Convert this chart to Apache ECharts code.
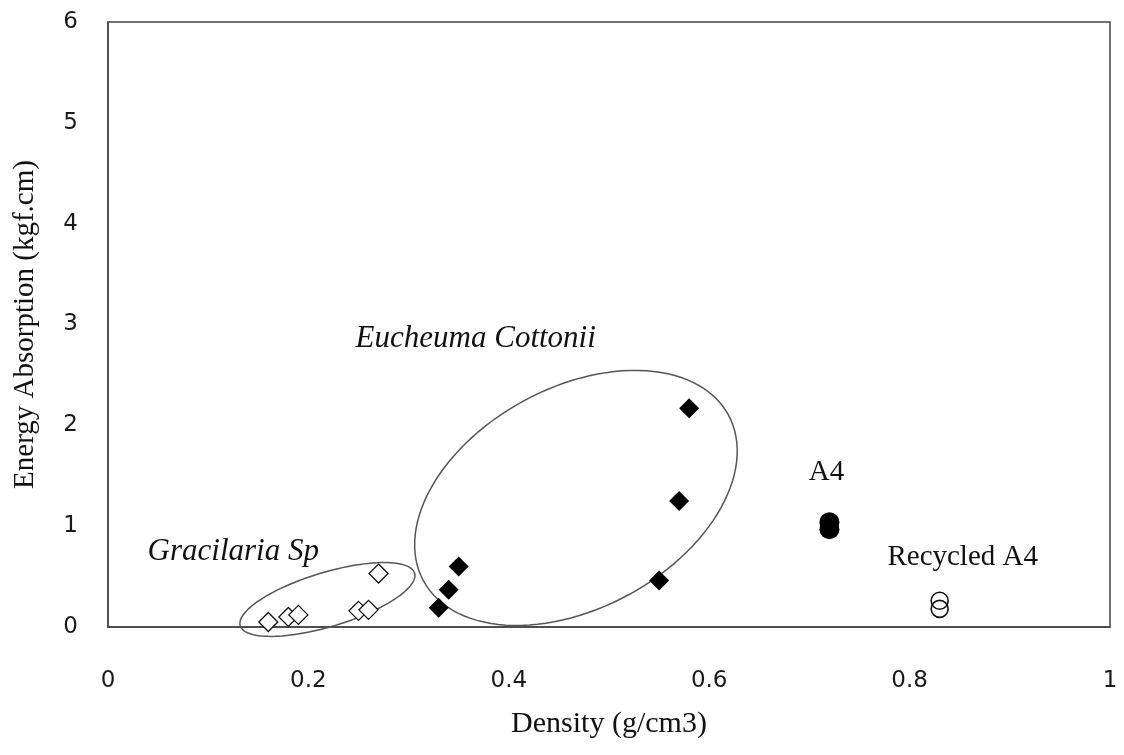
<!DOCTYPE html>
<html>
<head>
<meta charset="utf-8">
<script src="https://cdn.jsdelivr.net/npm/echarts@6/dist/echarts.min.js"></script>
<style>
  html, body { margin: 0; padding: 0; background: #fff; }
  #chart { width: 1124px; height: 755px; }
</style>
</head>
<body>
<div id="chart"></div>
<script>
// density (g/cm3) and energy absorption (kgf.cm)
const gracilariaX = [0.16, 0.18, 0.19, 0.25, 0.26, 0.27];
const gracilariaY = [0.05, 0.10, 0.12, 0.16, 0.17, 0.53];
const eucheumaX = [0.33, 0.34, 0.35, 0.55, 0.57, 0.58];
const eucheumaY = [0.19, 0.37, 0.60, 0.46, 1.25, 2.17];
const a4X = [0.72, 0.72];
const a4Y = [1.04, 0.97];
const recycledX = [0.83, 0.83];
const recycledY = [0.26, 0.18];

const xTicks = ["0", "0.2", "0.4", "0.6", "0.8", "1"];
const yTicks = ["0", "1", "2", "3", "4", "5", "6"];

// group outlines: centre, end of long axis, end of short axis (data units)
const groupOutlines = [
  [0.219, 0.273, 0.306, 0.534, 0.2268, 0.016],
  [0.467, 1.280, 0.619, 2.106, 0.520, 0.322]
];

// annotation text anchors (data units)
const notes = [
  { text: "Eucheuma Cottonii", at: [0.367, 2.857], italic: true },
  { text: "Gracilaria Sp", at: [0.125, 0.744], italic: true },
  { text: "A4", at: [0.717, 1.538], italic: false },
  { text: "Recycled A4", at: [0.853, 0.694], italic: false }
];

function zip(xs, ys) {
  return xs.map((x, i) => [x, ys[i]]);
}

const myChart = echarts.init(document.getElementById("chart"));

const serif = "'Liberation Serif', 'Times New Roman', serif";
const sans = "'DejaVu Sans', sans-serif";

let option = {
  animation: false,
  grid: {
    left: 108,
    right: 14,
    top: 22,
    bottom: 128,
    show: true,
    borderColor: "#444",
    borderWidth: 1.5
  },
  xAxis: {
    type: "value",
    min: 0,
    max: 1,
    interval: 0.2,
    name: "Density (g/cm3)",
    nameLocation: "middle",
    nameGap: 82,
    nameTextStyle: { fontFamily: serif, fontSize: 30, color: "#111" },
    axisLine: { show: true, onZero: false, lineStyle: { color: "#444", width: 1.5 } },
    axisTick: { show: false },
    splitLine: { show: false },
    axisLabel: {
      margin: 43,
      fontFamily: sans,
      fontSize: 23,
      color: "#1a1a1a",
      formatter: (v) => xTicks[Math.round(v / 0.2)]
    }
  },
  yAxis: {
    type: "value",
    min: 0,
    max: 6,
    interval: 1,
    name: "Energy Absorption (kgf.cm)",
    nameLocation: "middle",
    nameGap: 68,
    nameTextStyle: { fontFamily: serif, fontSize: 29, color: "#111" },
    axisLine: { show: true, onZero: false, lineStyle: { color: "#444", width: 1.5 } },
    axisTick: { show: false },
    splitLine: { show: false },
    axisLabel: {
      margin: 30,
      fontFamily: sans,
      fontSize: 23,
      color: "#1a1a1a",
      formatter: (v) => yTicks[Math.round(v)]
    }
  },
  series: [
    {
      type: "custom",
      name: "outlines",
      clip: false,
      z: 1,
      silent: true,
      encode: { x: 0, y: 1 },
      data: groupOutlines,
      renderItem(params, api) {
        const c = api.coord([api.value(0), api.value(1)]);
        const m = api.coord([api.value(2), api.value(3)]);
        const n = api.coord([api.value(4), api.value(5)]);
        const u = [m[0] - c[0], m[1] - c[1]];
        const w = [n[0] - c[0], n[1] - c[1]];
        const pts = [];
        for (let k = 0; k < 120; k++) {
          const t = (k / 120) * Math.PI * 2;
          pts.push([
            c[0] + u[0] * Math.cos(t) + w[0] * Math.sin(t),
            c[1] + u[1] * Math.cos(t) + w[1] * Math.sin(t)
          ]);
        }
        return {
          type: "polygon",
          shape: { points: pts },
          style: { fill: "none", stroke: "#555", lineWidth: 1.5 }
        };
      }
    },
    {
      type: "custom",
      name: "notes",
      clip: false,
      z: 3,
      silent: true,
      encode: { x: 0, y: 1 },
      data: notes.map((n) => n.at),
      renderItem(params, api) {
        const p = api.coord([api.value(0), api.value(1)]);
        const n = notes[params.dataIndex];
        return {
          type: "text",
          x: p[0],
          y: p[1],
          style: {
            text: n.text,
            font: (n.italic ? "italic 31px " : "29px ") + serif,
            fill: "#111",
            align: "center",
            verticalAlign: "middle"
          }
        };
      }
    },
    {
      type: "scatter",
      name: "Gracilaria Sp",
      z: 2,
      symbol: "diamond",
      symbolSize: 19,
      itemStyle: { color: "#fff", borderColor: "#111", borderWidth: 1.3, opacity: 1 },
      data: zip(gracilariaX, gracilariaY)
    },
    {
      type: "scatter",
      name: "Eucheuma Cottonii",
      z: 2,
      symbol: "diamond",
      symbolSize: 20,
      itemStyle: { color: "#000", opacity: 1 },
      data: zip(eucheumaX, eucheumaY)
    },
    {
      type: "scatter",
      name: "A4",
      z: 2,
      symbol: "circle",
      symbolSize: 20,
      itemStyle: { color: "#000", opacity: 1 },
      data: zip(a4X, a4Y)
    },
    {
      type: "scatter",
      name: "Recycled A4",
      z: 2,
      symbol: "circle",
      symbolSize: 17,
      itemStyle: { color: "rgba(255,255,255,0)", borderColor: "#111", borderWidth: 1.6, opacity: 1 },
      data: zip(recycledX, recycledY)
    }
  ]
};
myChart.setOption(option, true);
</script>
</body>
</html>
